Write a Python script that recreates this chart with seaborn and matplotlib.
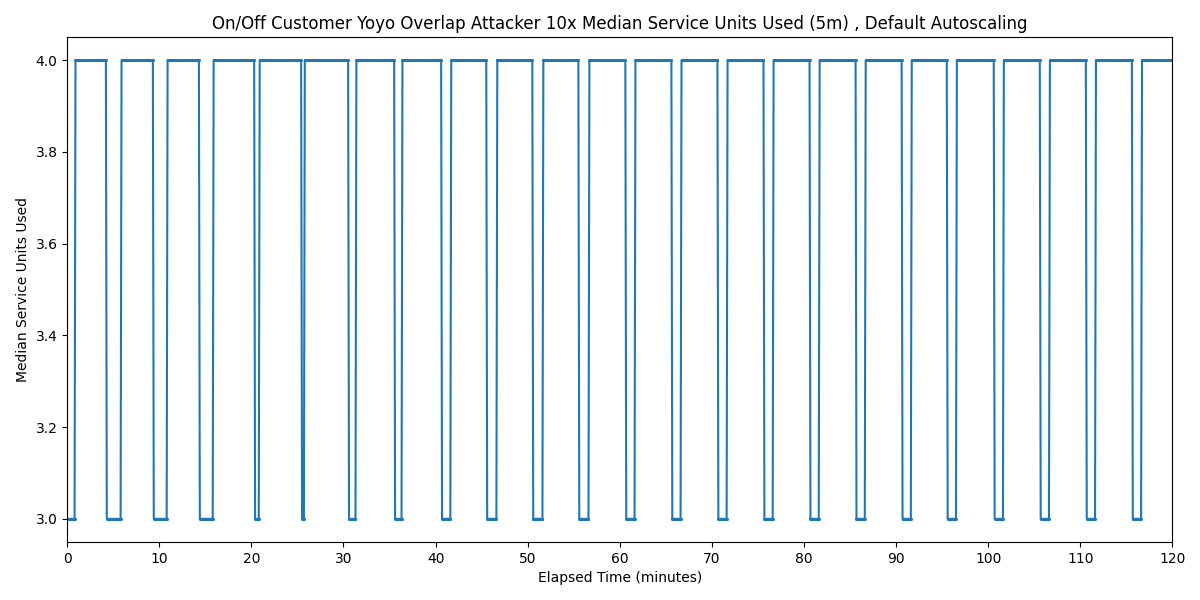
import numpy as np
import pandas as pd
import matplotlib
matplotlib.use("Agg")
import matplotlib.pyplot as plt
import seaborn as sns

# Periods (minutes) where the median service units dropped to the low level
low_starts = [0.0, 4.3, 9.4, 14.4, 20.4, 25.5, 30.6, 35.6, 40.7, 45.6, 50.6, 55.6,
              60.7, 65.7, 70.7, 75.7, 80.7, 85.7, 90.7, 95.6, 100.7, 105.7, 110.7, 115.7]
low_ends = [0.8, 5.8, 10.8, 15.8, 20.8, 25.7, 31.3, 36.3, 41.6, 46.6, 51.6, 56.6,
            61.6, 66.6, 71.6, 76.6, 81.6, 86.6, 91.6, 96.5, 101.6, 106.6, 111.6, 116.6]
high_value = 4.0
low_value = 3.0
t_end = 120.5
sample_step = 0.1  # sampling interval of the metric (minutes)

t = np.round(np.arange(0, t_end + 1e-9, sample_step), 3)
vals = np.full_like(t, high_value)
for s, e in zip(low_starts, low_ends):
    vals[(t >= s) & (t <= e)] = low_value
df = pd.DataFrame({"Elapsed Time (minutes)": t, "Median Service Units Used": vals})

fig, ax = plt.subplots(figsize=(12, 6), dpi=100)
sns.lineplot(data=df, x="Elapsed Time (minutes)", y="Median Service Units Used",
             ax=ax, color="#1f77b4", linewidth=1.5, marker="o", markersize=2.2,
             markeredgewidth=0, alpha=1.0)
ax.set_xlim(0, 120)
ax.set_ylim(2.95, 4.05)
ax.set_xticks(np.arange(0, 121, 10))
ax.set_yticks([3.0, 3.2, 3.4, 3.6, 3.8, 4.0])
ax.set_title("On/Off Customer Yoyo Overlap Attacker 10x Median Service Units Used (5m) , Default Autoscaling", fontsize=12)
ax.set_xlabel("Elapsed Time (minutes)")
ax.set_ylabel("Median Service Units Used")
fig.subplots_adjust(left=0.056, right=0.977, top=0.938, bottom=0.097)
fig.savefig("out.png", dpi=100)
